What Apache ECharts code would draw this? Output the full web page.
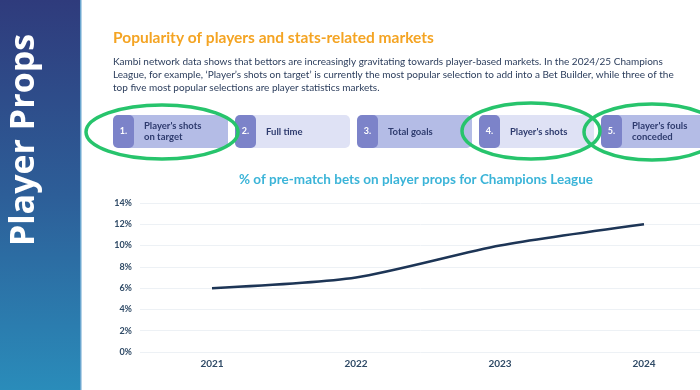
<!DOCTYPE html>
<html><head><meta charset="utf-8">
<script src="https://cdn.jsdelivr.net/npm/echarts@6/dist/echarts.min.js"></script>
<style>html,body{margin:0;padding:0;background:#fff}#c{width:700px;height:390px}</style>
</head><body><div id="c"></div>
<script>
const years = ['2021', '2022', '2023', '2024'];
const betShare = [6, 7, 10, 12];
const yTicks = [0, 2, 4, 6, 8, 10, 12, 14];
const boxNumbers = ['1.', '2.', '3.', '4.', '5.'];
const boxLabels = [["Player's shots", 'on target'], ['Full time'], ['Total goals'], ["Player's shots"], ["Player's fouls", 'conceded']];
const sideTitle = 'Player Props';
const heading = 'Popularity of players and stats-related markets';
const paragraph = [
  'Kambi network data shows that bettors are increasingly gravitating towards player-based markets. In the 2024/25 Champions',
  "League, for example, \u2018Player\u2019s shots on target\u2019 is currently the most popular selection to add into a Bet Builder, while three of the",
  'top five most popular selections are player statistics markets.'
];
const chartTitle = '% of pre-match bets on player props for Champions League';

const chart = echarts.init(document.getElementById('c'), null, {renderer: 'canvas'});
const F = 'Lato';
const g = [];
// sidebar
g.push({type: 'rect', shape: {x: 0, y: 0, width: 80, height: 390}, style: {fill: new echarts.graphic.LinearGradient(0, 0, 0, 1, [{offset: 0, color: '#2f3b7c'}, {offset: 0.5, color: '#2d5e98'}, {offset: 1, color: '#2a8cba'}])}, z: 0});
g.push({type: 'rect', shape: {x: 80, y: 0, width: 1.5, height: 390}, style: {fill: '#6aa6cf'}, z: 1});
g.push({type: 'text', x: 24, y: 140, rotation: Math.PI / 2, style: {text: sideTitle, fill: '#ffffff', font: 'bold 34px "Open Sans"', align: 'center', verticalAlign: 'middle'}, z: 2});
// heading + paragraph
g.push({type: 'text', x: 113, y: 38, style: {text: heading, fill: '#f4a423', font: 'bold 15.5px ' + F, verticalAlign: 'middle'}});
paragraph.forEach((t, i) => g.push({type: 'text', x: 113, y: 62 + i * 13, style: {text: t, fill: '#2b3d5c', font: '10px ' + F, verticalAlign: 'middle'}}));
// boxes
boxNumbers.forEach((n, i) => {
  const x0 = 113 + i * 122;
  const light = i % 2 === 1;
  g.push({type: 'rect', shape: {x: x0 + 10, y: 115, width: 105, height: 33, r: 5}, style: {fill: light ? '#dfe2f5' : '#b4bce6'}, z: 3});
  g.push({type: 'rect', shape: {x: x0, y: 115, width: 21, height: 33, r: 5}, style: {fill: '#7c83c9'}, z: 4});
  g.push({type: 'text', x: x0 + 10.5, y: 131.5, style: {text: n, fill: '#ffffff', font: 'bold 9px ' + F, align: 'center', verticalAlign: 'middle'}, z: 5});
  const lines = boxLabels[i];
  lines.forEach((t, j) => g.push({type: 'text', x: x0 + 31, y: 131.5 + (j - (lines.length - 1) / 2) * 11, style: {text: t, fill: '#2e3b6e', font: 'bold 9.5px ' + F, verticalAlign: 'middle'}, z: 5}));
});
// green ellipses
[[162, 132, 76, 27], [531, 131, 69, 28], [652, 132, 68, 28]].forEach(e => g.push({type: 'ellipse', shape: {cx: e[0], cy: e[1], rx: e[2], ry: e[3]}, style: {fill: 'none', stroke: '#27c46c', lineWidth: 3.5}, z: 10}));
// chart title
g.push({type: 'text', x: 416, y: 180, style: {text: chartTitle, fill: '#3bb4d8', font: 'bold 13.5px ' + F, align: 'center', verticalAlign: 'middle'}});

chart.setOption({
  animation: false,
  graphic: g,
  grid: {left: 140, top: 203, width: 576, height: 149, outerBoundsMode: 'none', containLabel: false},
  xAxis: {type: 'category', data: years, boundaryGap: true, axisLine: {show: false}, axisTick: {show: false},
    axisLabel: {color: '#2f4a66', fontFamily: F, fontSize: 10, fontWeight: 'bold', margin: 7}},
  yAxis: {type: 'value', min: yTicks[0], max: yTicks[yTicks.length - 1], interval: 2,
    axisLabel: {formatter: '{value}%', color: '#2f4a66', fontFamily: F, fontSize: 9, fontWeight: 'bold', margin: 8},
    splitLine: {lineStyle: {color: '#edf1f5', width: 1}}},
  series: [{type: 'line', data: betShare, smooth: 0.25, symbol: 'none', lineStyle: {color: '#1d3556', width: 2.5}}]
});
</script></body></html>
